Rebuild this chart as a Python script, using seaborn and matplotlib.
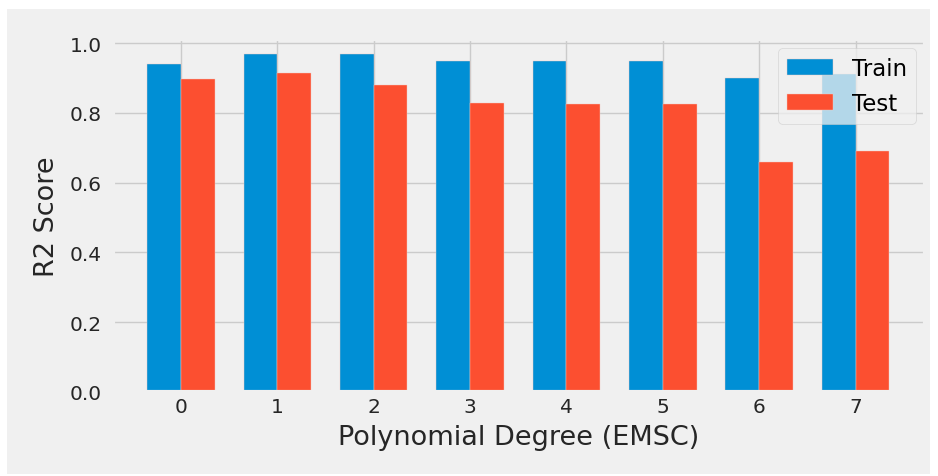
import matplotlib
matplotlib.use("Agg")
import matplotlib.pyplot as plt
from matplotlib.patches import Rectangle
import pandas as pd
import seaborn as sns

degrees = [0, 1, 2, 3, 4, 5, 6, 7]
train_r2 = [0.94, 0.968, 0.968, 0.948, 0.949, 0.949, 0.899, 0.911]
test_r2 = [0.897, 0.914, 0.880, 0.828, 0.826, 0.826, 0.658, 0.690]
series_names = ["Train", "Test"]
series_colors = ["#008fd5", "#fc4f30"]

df = pd.DataFrame({
    "degree": degrees * 2,
    "r2": train_r2 + test_r2,
    "set": [series_names[0]] * len(degrees) + [series_names[1]] * len(degrees),
})

plt.style.use("fivethirtyeight")
plt.rcParams["font.family"] = ["DejaVu Sans"]

fig = plt.figure(figsize=(9.38, 4.77), dpi=100, facecolor="white")
fig.patches.append(Rectangle((7 / 938, 1 - 475 / 477), 923 / 938, 465 / 477,
                             transform=fig.transFigure, facecolor="#f0f0f0",
                             edgecolor="none", zorder=-10))
ax = fig.add_axes([113 / 938, 1 - 393 / 477, 812 / 938, 353 / 477])

sns.barplot(data=df, x="degree", y="r2", hue="set", hue_order=series_names,
            palette=series_colors, saturation=1, width=0.7, ax=ax,
            edgecolor="#f4c9c0", linewidth=0.3, errorbar=None)

ax.set_xlim(-0.705, 7.72)
ax.set_ylim(0, 1.0115)
ax.xaxis.grid(True)
ax.yaxis.grid(True)
ax.set_axisbelow(True)
ax.tick_params(axis="both", labelsize=14.5, colors="#262626", length=0)
ax.tick_params(axis="y", pad=8)
ax.set_xlabel("Polynomial Degree (EMSC)", fontsize=19.5, color="#262626",
              labelpad=6)
ax.set_ylabel("R2 Score", fontsize=19.5, color="#262626", labelpad=7)

ax.legend(loc="upper right", title=None, fontsize=16.5, framealpha=0.75,
          borderaxespad=0.4)

fig.savefig("out.png", dpi=100, facecolor="white")
